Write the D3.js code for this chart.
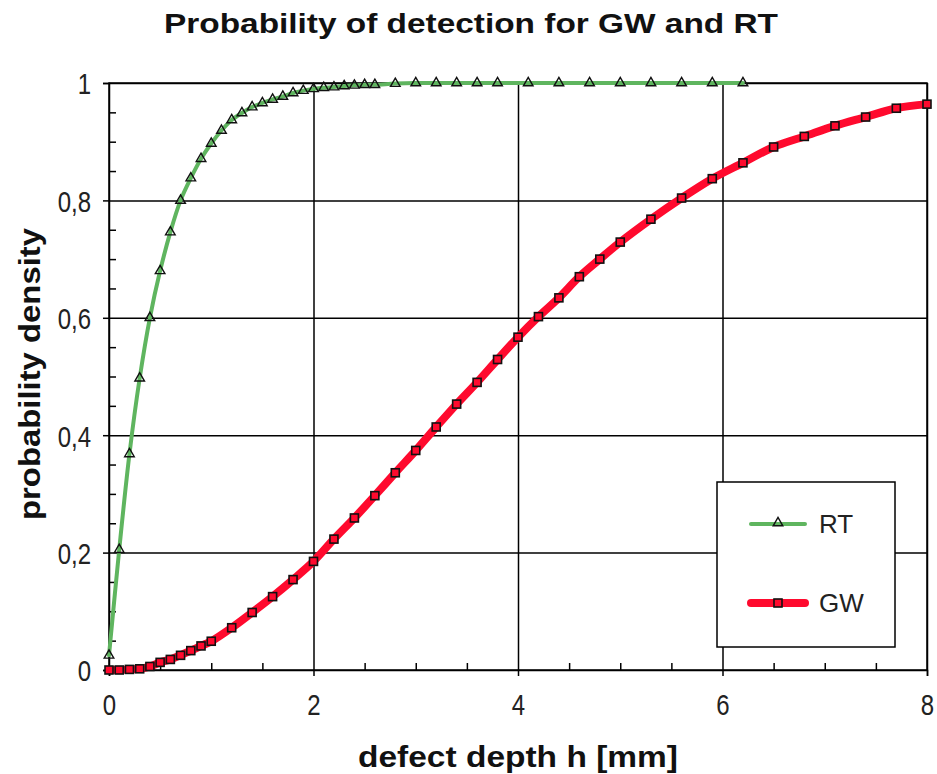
<!DOCTYPE html>
<html>
<head>
<meta charset="utf-8">
<script src="https://cdn.jsdelivr.net/npm/d3@7"></script>
<style>
  html, body { margin: 0; padding: 0; background: #fff; }
  svg { display: block; font-family: "Liberation Sans", Arial, sans-serif; }
</style>
</head>
<body>
<svg id="chart" width="937" height="774"></svg>
<script>
// ---- data ----
const rtX = [0,0.1,0.2,0.3,0.4,0.5,0.6,0.7,0.8,0.9,1.0,1.1,1.2,1.3,1.4,1.5,1.6,1.7,1.8,1.9,2.0,2.1,2.2,2.3,2.4,2.5,2.6,2.8,3.0,3.2,3.4,3.6,3.8,4.1,4.4,4.7,5.0,5.3,5.6,5.9,6.2];
const rtY = [0.025,0.205,0.368,0.497,0.600,0.680,0.746,0.800,0.838,0.871,0.897,0.919,0.937,0.949,0.959,0.966,0.972,0.977,0.983,0.987,0.990,0.992,0.993,0.995,0.996,0.997,0.997,0.999,1,1,1,1,1,1,1,1,1,1,1,1,1];
const gwX = [0,0.1,0.2,0.3,0.4,0.5,0.6,0.7,0.8,0.9,1.0,1.2,1.4,1.6,1.8,2.0,2.2,2.4,2.6,2.8,3.0,3.2,3.4,3.6,3.8,4.0,4.2,4.4,4.6,4.8,5.0,5.3,5.6,5.9,6.2,6.5,6.8,7.1,7.4,7.7,8.0];
const gwY = [0,0,0.001,0.002,0.006,0.013,0.018,0.025,0.033,0.041,0.049,0.072,0.098,0.125,0.154,0.185,0.223,0.259,0.297,0.336,0.374,0.414,0.453,0.490,0.529,0.567,0.602,0.634,0.670,0.700,0.729,0.768,0.804,0.837,0.864,0.891,0.909,0.927,0.942,0.957,0.964];
const xMajorTicks = [0,2,4,6,8];
const xMinorTicks = [0.5,1,1.5,2.5,3,3.5,4.5,5,5.5,6.5,7,7.5];
const yMajorTicks = [0,0.2,0.4,0.6,0.8,1];
const yMinorTicks = [0.05,0.1,0.15,0.25,0.3,0.35,0.45,0.5,0.55,0.65,0.7,0.75,0.85,0.9,0.95];
const yTickLabels = ["0","0,2","0,4","0,6","0,8","1"];
const titleText = "Probability of detection for GW and RT";
const xTitle = "defect depth h [mm]";
const yTitle = "probability density";
const seriesNames = ["RT","GW"];

// ---- layout ----
const svg = d3.select("#chart");
const L = 109, R = 927, T = 83, B = 670;
const x = d3.scaleLinear().domain([0,8]).range([L,R]);
const y = d3.scaleLinear().domain([0,1]).range([B,T]);
const GREEN = "#5fb55f", RED = "#ff0a2e";

// grid
svg.append("g").attr("transform",`translate(${L},0)`)
  .call(d3.axisLeft(y).tickValues([0.2,0.4,0.6,0.8,1]).tickSize(-(R-L)).tickFormat(""))
  .call(g => { g.select(".domain").remove(); g.selectAll("line").attr("stroke","#000").attr("stroke-width",1.5); });
svg.append("g").attr("transform",`translate(0,${B})`)
  .call(d3.axisBottom(x).tickValues([2,4,6,8]).tickSize(-(B-T)).tickFormat(""))
  .call(g => { g.select(".domain").remove(); g.selectAll("line").attr("stroke","#000").attr("stroke-width",1.5); });

// frame
svg.append("rect").attr("x",L).attr("y",T).attr("width",R-L).attr("height",B-T)
  .attr("fill","none").attr("stroke","#000").attr("stroke-width",1.5);

// minor ticks
svg.append("g").attr("transform",`translate(${L},0)`)
  .call(d3.axisRight(y).tickValues(yMinorTicks).tickSize(7).tickFormat(""))
  .call(g => { g.select(".domain").remove(); g.selectAll("line").attr("stroke","#000").attr("stroke-width",1.5); });
svg.append("g").attr("transform",`translate(0,${B})`)
  .call(d3.axisTop(x).tickValues(xMinorTicks).tickSize(7).tickFormat(""))
  .call(g => { g.select(".domain").remove(); g.selectAll("line").attr("stroke","#000").attr("stroke-width",1.5); });

// major axes
const yAx = svg.append("g").attr("transform",`translate(${L},0)`)
  .call(d3.axisLeft(y).tickValues(yMajorTicks).tickSize(6).tickPadding(12)
    .tickFormat((d,i) => yTickLabels[i]));
const xAx = svg.append("g").attr("transform",`translate(0,${B})`)
  .call(d3.axisBottom(x).tickValues(xMajorTicks).tickSize(6).tickPadding(24).tickFormat(d3.format("d")));
[yAx,xAx].forEach(g => {
  g.select(".domain").attr("stroke","#000").attr("stroke-width",1.5);
  g.selectAll("line").attr("stroke","#000").attr("stroke-width",1.5);
  g.selectAll("text").attr("font-size",30).attr("fill","#222")
    .attr("font-family","'Liberation Sans', Arial, sans-serif");
});
yAx.selectAll("text").attr("dy","0.36em");
xAx.selectAll("text").attr("dy","0.5em");
[yAx,xAx].forEach(g => g.selectAll("text").each(function(){
  const w = this.getComputedTextLength();
  d3.select(this).attr("textLength", w*0.8).attr("lengthAdjust","spacingAndGlyphs");
}));

// lines
const line = d3.line().x(d => x(d[0])).y(d => y(d[1])).curve(d3.curveCatmullRom.alpha(0.5));
const rt = rtX.map((v,i) => [v, rtY[i]]);
const gw = gwX.map((v,i) => [v, gwY[i]]);

svg.append("path").datum(rt).attr("d",line).attr("fill","none")
  .attr("stroke",GREEN).attr("stroke-width",4).attr("stroke-linejoin","round").attr("stroke-linecap","round");
svg.append("path").datum(gw).attr("d",line).attr("fill","none")
  .attr("stroke",RED).attr("stroke-width",8).attr("stroke-linejoin","round").attr("stroke-linecap","round");

const tri = d3.symbol().type(d3.symbolTriangle).size(40);
svg.append("g").selectAll("path").data(rt).join("path")
  .attr("d",tri).attr("transform",d => `translate(${x(d[0])},${y(d[1])})`)
  .attr("fill","none").attr("stroke","#111").attr("stroke-width",1.4);
svg.append("g").selectAll("rect").data(gw).join("rect")
  .attr("x",d => x(d[0])-4).attr("y",d => y(d[1])-4).attr("width",8).attr("height",8)
  .attr("fill",RED).attr("stroke","#111").attr("stroke-width",1.6);

// legend
const lg = svg.append("g");
lg.append("rect").attr("x",717).attr("y",482).attr("width",178).attr("height",165)
  .attr("fill","#fff").attr("stroke","#000").attr("stroke-width",1.5);
const legendRows = [
  {name: seriesNames[0], y: 524, color: GREEN, w: 4, marker: "tri"},
  {name: seriesNames[1], y: 603, color: RED, w: 8, marker: "sq"}
];
legendRows.forEach(r => {
  lg.append("line").attr("x1",751).attr("x2",805).attr("y1",r.y).attr("y2",r.y)
    .attr("stroke",r.color).attr("stroke-width",r.w).attr("stroke-linecap","round");
  if (r.marker === "tri") {
    lg.append("path").attr("d",tri).attr("transform",`translate(778,${r.y-1})`)
      .attr("fill","none").attr("stroke","#111").attr("stroke-width",1.4);
  } else {
    lg.append("rect").attr("x",774).attr("y",r.y-4).attr("width",8).attr("height",8)
      .attr("fill",RED).attr("stroke","#111").attr("stroke-width",1.6);
  }
  lg.append("text").attr("x",819).attr("y",r.y).attr("dy","0.36em")
    .attr("font-size",26).attr("fill","#222").text(r.name);
});

// titles
function fitText(sel, len) {
  sel.attr("textLength", len).attr("lengthAdjust","spacingAndGlyphs");
}
svg.append("text").attr("x",471).attr("y",33).attr("text-anchor","middle")
  .attr("font-size",28).attr("font-weight","bold").attr("fill","#111").text(titleText)
  .call(fitText, 614);
svg.append("text").attr("x",518).attr("y",767).attr("text-anchor","middle")
  .attr("font-size",29).attr("font-weight","bold").attr("fill","#111").text(xTitle)
  .call(fitText, 320);
svg.append("text").attr("transform","translate(40,374) rotate(-90)").attr("text-anchor","middle")
  .attr("font-size",29).attr("font-weight","bold").attr("fill","#111").text(yTitle)
  .call(fitText, 292);
</script>
</body>
</html>
